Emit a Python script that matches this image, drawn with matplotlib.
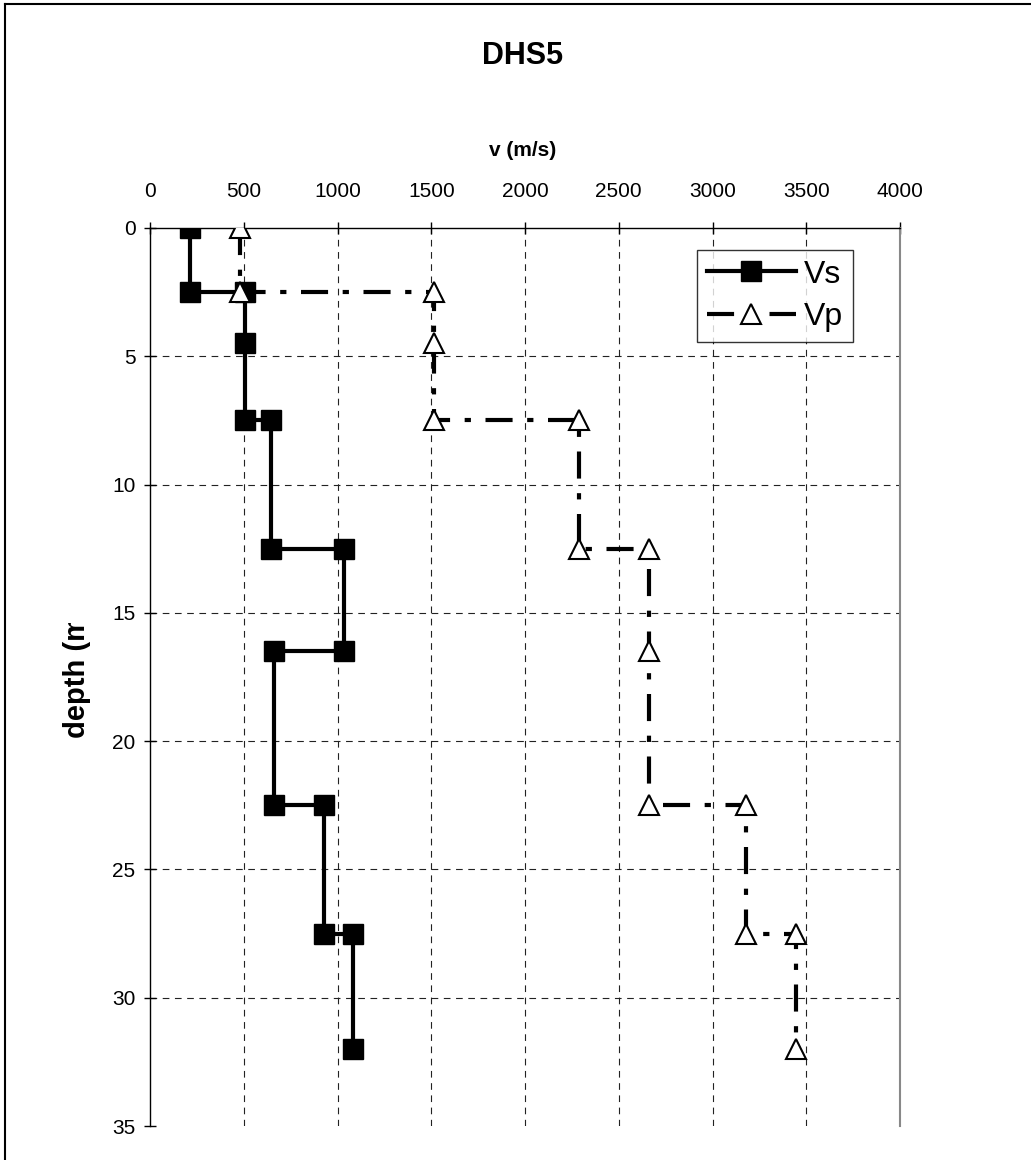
import matplotlib
matplotlib.use("Agg")
import matplotlib.pyplot as plt
from matplotlib.transforms import Bbox
from matplotlib.lines import Line2D

plt.rcParams['font.family'] = ['Liberation Sans', 'DejaVu Sans']

# data (step profiles, depth in m, velocity in m/s)
vs_depth = [0, 2.5, 2.5, 4.5, 7.5, 7.5, 12.5, 12.5, 16.5, 16.5, 22.5, 22.5, 27.5, 27.5, 32]
vs_vel = [215, 215, 505, 505, 505, 645, 645, 1035, 1035, 660, 660, 930, 930, 1080, 1080]

vp_depth = [0, 2.5, 2.5, 4.5, 7.5, 7.5, 12.5, 12.5, 16.5, 22.5, 22.5, 27.5, 27.5, 32]
vp_vel = [480, 480, 1515, 1515, 1515, 2290, 2290, 2660, 2660, 2660, 3180, 3180, 3445, 3445]

x_ticks = [0, 500, 1000, 1500, 2000, 2500, 3000, 3500, 4000]
y_ticks = [0, 5, 10, 15, 20, 25, 30, 35]

W, H = 1031, 1160
fig = plt.figure(figsize=(W / 100, H / 100), dpi=100)
ax = fig.add_axes([150 / W, 1 - 1126 / H, 750 / W, (1126 - 228) / H])

ax.set_xlim(0, 4000)
ax.set_ylim(35, 0)

# inner dashed grid
for xv in x_ticks[1:-1]:
    ax.axvline(xv, color='#222222', lw=0.8, ls=(0, (6, 5)), zorder=1)
for yv in y_ticks[1:-1]:
    ax.axhline(yv, color='#222222', lw=0.8, ls=(0, (6, 5)), zorder=1)

ax.plot(vs_vel, vs_depth, color='black', lw=3, marker='s', ms=14,
        mfc='black', mec='black', label='Vs', zorder=3)
ax.plot(vp_vel, vp_depth, color='black', lw=3, ls=(0, (6.5, 3.5, 1.5, 3.5)),
        marker='^', ms=15, mfc='white', mec='black', mew=1.5, label='Vp', zorder=3)

ax.xaxis.tick_top()
ax.set_xticks(x_ticks)
ax.set_yticks(y_ticks)
ax.tick_params(axis='x', direction='inout', length=9, width=1, pad=15,
               labelsize=15)
ax.tick_params(axis='y', direction='inout', length=9, width=1, pad=6,
               labelsize=15)

ax.spines['bottom'].set_visible(False)
ax.spines['right'].set_color('#888888')
ax.spines['right'].set_linewidth(1.5)
for s in ['left', 'top']:
    ax.spines[s].set_color('black')
    ax.spines[s].set_linewidth(1)

leg = ax.legend(loc='upper left', bbox_to_anchor=(0.7295, 0.9755),
                fontsize=23, handlelength=2.8, handletextpad=0.25,
                borderpad=0.3, labelspacing=0.4, frameon=True, fancybox=False,
                borderaxespad=0)
leg.get_frame().set_edgecolor('black')
leg.get_frame().set_linewidth(1)

fig.text(523 / W, 1 - 56 / H, 'DHS5', ha='center', va='center',
         fontsize=22, fontweight='bold')
fig.text(523 / W, 1 - 150 / H, 'v (m/s)', ha='center', va='center',
         fontsize=15, fontweight='bold')

ylab = fig.text(77 / W, 1 - 738 / H, 'depth (m)', rotation=90, ha='center',
                va='bottom', fontsize=21, fontweight='bold')
ylab.set_clip_box(Bbox([[0, 0], [W, H - 623]]))
ylab.set_clip_on(True)

# outer chart frame (only top and left edges fall inside the picture)
fig.add_artist(Line2D([5 / W, 5 / W], [0, 1 - 4 / H], color='black', lw=1.5,
                      transform=fig.transFigure))
fig.add_artist(Line2D([5 / W, 1], [1 - 4 / H, 1 - 4 / H], color='black', lw=1.5,
                      transform=fig.transFigure))

fig.savefig('out.png', dpi=100)
